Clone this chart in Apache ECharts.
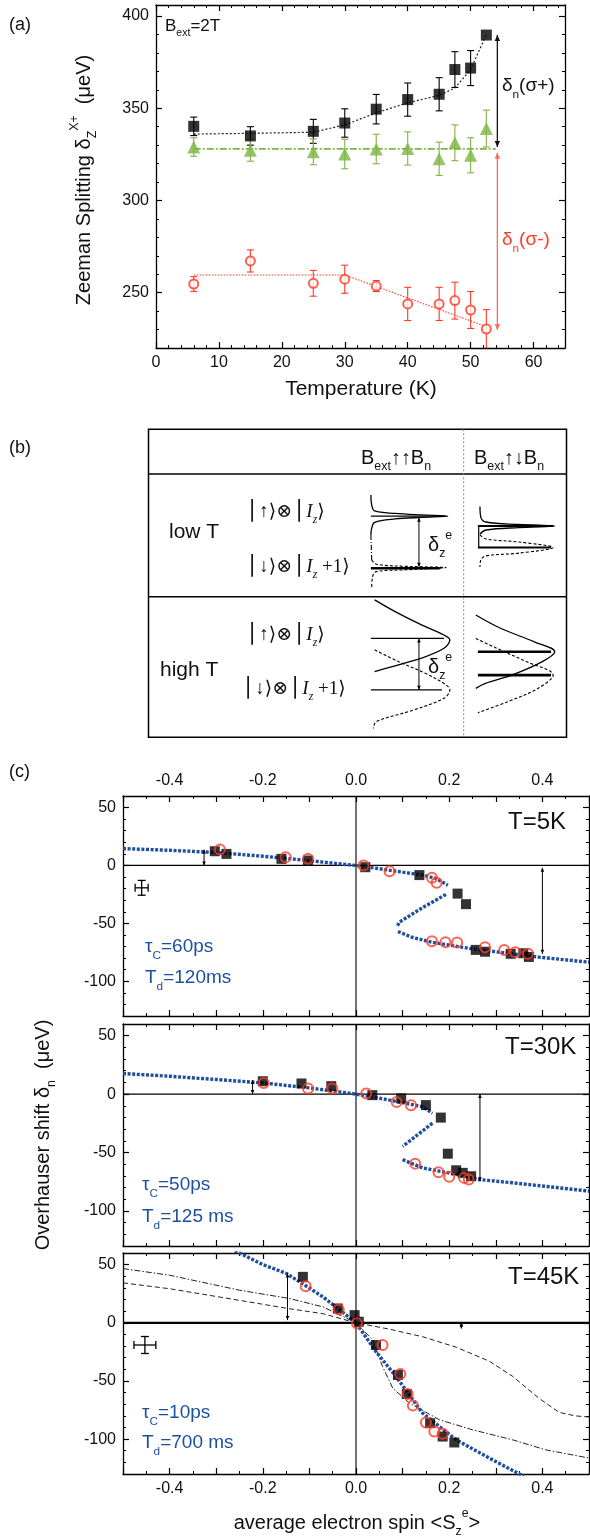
<!DOCTYPE html>
<html>
<head>
<meta charset="utf-8">
<script src="https://cdn.jsdelivr.net/npm/echarts@6/dist/echarts.min.js"></script>
<style>
  html, body { margin: 0; padding: 0; background: #fff; }
  #chart { width: 590px; height: 1539px; }
</style>
</head>
<body>
<div id="chart"></div>
<script>
// ---------- (a) Zeeman splitting versus temperature ----------
const temperature = [6, 15, 25, 30, 35, 40, 45, 47.5, 50, 52.5];
const splitSigmaPlus = [340.2, 335, 337.5, 342, 349.5, 354.7, 357.6, 371, 371.8, 389.7];
const errSigmaPlus = [5, 5, 6.5, 7.7, 8, 9, 9, 9.7, 9.5, 0];
const splitLinear = [329, 327.3, 326.4, 325.2, 327.9, 328.2, 322.6, 331.3, 324.5, 339];
const errLinear = [5, 6, 7, 8, 8, 9, 9, 9.7, 9.5, 10];
const splitSigmaMinus = [254.7, 267.2, 255.1, 257.3, 253.6, 243.9, 243.9, 245.7, 240.6, 230.3];
const errSigmaMinus = [4, 6, 7, 7.6, 3, 9, 9, 10, 10, 10.5];
const trendSigmaPlus = [[6, 336], [15, 336.4], [25, 337], [30, 341], [35, 347.5], [40, 353], [45, 357], [47.5, 361], [50, 371], [52.5, 390]];
const trendLinear = [[6, 328], [54, 328]];
const trendSigmaMinus = [[6, 259.6], [30, 259.6], [52.5, 231.6]];
const shiftPlusArrow = [[54.25, 389.7, 329]];
const shiftMinusArrow = [[54.25, 325.9, 229.8]];
const tempTicks = [0, 10, 20, 30, 40, 50, 60];
const tempMinorTicks = [2, 4, 6, 8, 12, 14, 16, 18, 22, 24, 26, 28, 32, 34, 36, 38, 42, 44, 46, 48, 52, 54, 56, 58, 62, 64];
const splitTicks = [250, 300, 350, 400];
const splitMinorTicks = [220, 230, 240, 260, 270, 280, 290, 310, 320, 330, 340, 360, 370, 380, 390];

// ---------- (b) level scheme (table units: 0..100 across, 0..100 down) ----------
const tableRules = [[[0, 14.5], [100, 14.5]], [[0, 54.4], [100, 54.4]]];
const tableDivider = [[75.4, 0], [75.4, 100]];
const lowParUpper = [[53.2, 21.3], [53.4, 24.6], [54.1, 26.5], [59.0, 27.3], [65.3, 27.8], [71.6, 28.2], [65.3, 28.6], [59.0, 29.1], [54.1, 30.2], [53.4, 32.1], [53.2, 34.3]];
const lowParTail = [[53.2, 34.3], [53.4, 42.4]];
const lowParLower = [[53.4, 42.4], [54.5, 43.8], [61.7, 44.5], [71.2, 44.9], [61.7, 45.6], [54.5, 46.2], [53.6, 47.9], [53.4, 51.4]];
const lowParLevels = [[[53.2, 28.2], [70.7, 28.2]], [[53.2, 45.1], [69.7, 45.1]]];
const lowAntiUpper = [[79.3, 25.1], [79.5, 28.5], [80.7, 30.1], [88.6, 30.9], [97.2, 31.4], [88.6, 31.9], [80.7, 32.7], [79.3, 34.0]];
const lowAntiLower = [[79.3, 34.3], [80.7, 35.6], [88.6, 36.6], [96.8, 38.4], [88.6, 40.2], [80.7, 41.1], [79.5, 42.4], [79.3, 44.7]];
const lowAntiLevels = [[[78.8, 31.4], [96.8, 31.4]], [[79.0, 31.4], [79.0, 38.4]], [[78.8, 38.4], [96.3, 38.4]]];
const highParUpper = [[54.1, 55.4], [59.0, 59.2], [65.3, 63.5], [70.7, 66.8], [72.1, 68.4], [70.7, 71.1], [65.3, 74.3], [58.1, 77.1], [54.1, 78.7]];
const highParLower = [[54.1, 71.6], [59.9, 75.5], [66.2, 79.2], [71.2, 83.0], [72.1, 84.6], [70.7, 87.3], [63.5, 91.1], [54.5, 94.9], [53.8, 97.1]];
const highParLevels = [[[53.2, 67.9], [70.7, 67.9]], [[53.2, 84.6], [70.2, 84.6]]];
const highAntiUpper = [[78.3, 60.3], [84.2, 64.6], [92.3, 69.0], [97.2, 72.2], [94.1, 75.5], [86.9, 79.8], [80.6, 82.5], [78.3, 84.1]];
const highAntiLower = [[78.3, 67.9], [83.3, 71.1], [90.5, 75.5], [96.8, 79.8], [93.2, 84.1], [86.0, 88.4], [78.8, 92.0]];
const highAntiLevels = [[[78.8, 72.2], [96.3, 72.2]], [[78.8, 79.8], [96.3, 79.8]]];
const splittingArrows = [[64.7, 28.7, 44.6], [64.7, 67.9, 84.6]];

// ---------- (c) Overhauser shift versus average electron spin ----------
const sigmaPlus5K = [[-0.303, 12.3], [-0.278, 10], [-0.16, 5.7], [-0.103, 4.3], [0.02, -1.5], [0.136, -8.3], [0.218, -24.3], [0.236, -33.4], [0.257, -72.9], [0.277, -74.5], [0.332, -76.3], [0.359, -75.8], [0.371, -79]];
const sigmaMinus5K = [[-0.292, 13.7], [-0.151, 7.1], [-0.103, 5.7], [0.016, 0], [0.072, -4.9], [0.163, -10.6], [0.173, -14.9], [0.163, -65.5], [0.192, -66.4], [0.217, -66.6], [0.277, -70.7], [0.318, -72.9], [0.342, -75], [0.369, -76.3]];
const model5K = [
  [[-0.5, 14.6], [-0.4, 13.1], [-0.3, 11.2], [-0.2, 8], [-0.1, 4.2], [-0.05, 2], [0, 0], [0.05, -2.8], [0.1, -5.8], [0.143, -8.3], [0.17, -11], [0.197, -17]],
  [[0.193, -25], [0.143, -36.3], [0.093, -49], [0.088, -53]],
  [[0.09, -57], [0.12, -62], [0.164, -66.4], [0.25, -72], [0.33, -76], [0.393, -79.2], [0.5, -83.5]]
];
const sigmaPlus30K = [[-0.2, 11], [-0.117, 9.1], [-0.053, 6.8], [0.035, -0.9], [0.097, -3.7], [0.15, -9.4], [0.182, -20.1], [0.197, -51], [0.215, -65.2], [0.229, -67.4], [0.247, -70.3]];
const sigmaMinus30K = [[-0.198, 9.6], [-0.103, 4.8], [-0.051, 4.8], [0.022, 0.6], [0.087, -6.8], [0.118, -9.6], [0.127, -59.5], [0.177, -66.9], [0.2, -70.8], [0.232, -71.7], [0.242, -73.1]];
const model30K = [
  [[-0.5, 17.6], [-0.4, 15.3], [-0.3, 12.5], [-0.2, 9.6], [-0.1, 5.3], [0, 0], [0.072, -5.1], [0.143, -10.8], [0.164, -16.4]],
  [[0.164, -24.9], [0.132, -34.9], [0.1, -44.8]],
  [[0.1, -56.1], [0.143, -63.2], [0.215, -68.6], [0.264, -73.1], [0.336, -75.9], [0.5, -83]]
];
const sigmaPlus45K = [[-0.114, 39.5], [-0.039, 12.3], [-0.003, 6.6], [0.006, 0.9], [0.043, -19.1], [0.09, -44.9], [0.109, -61.2], [0.159, -86.3], [0.186, -97.8], [0.211, -102.9]];
const sigmaMinus45K = [[-0.108, 31.5], [-0.037, 11.5], [0.002, -0.5], [0.057, -19.1], [0.095, -44], [0.111, -61.2], [0.122, -71.2], [0.15, -85.8], [0.168, -93.5], [0.186, -95.5]];
const model45K = [
  [[-0.26, 62], [-0.2, 50], [-0.149, 42.4], [-0.071, 22.3], [0, 0], [0.043, -24.9], [0.086, -46.3], [0.143, -77.7], [0.215, -100.6], [0.286, -116.3], [0.36, -132]]
];
const dashed45K = [[-0.5, 34.3], [-0.4, 29.3], [-0.25, 19.3], [-0.143, 12.1], [-0.071, 7.8], [0, 0], [0.072, -5.5], [0.143, -12], [0.215, -21], [0.286, -33], [0.336, -46], [0.393, -65], [0.436, -77], [0.47, -80], [0.5, -81]];
const dashDot45K = [[-0.5, 46.6], [-0.4, 40.9], [-0.25, 28], [-0.143, 20.9], [-0.071, 13.7], [0, 0], [0.036, -14.8], [0.057, -37.7], [0.079, -56.3], [0.115, -69.1], [0.179, -83.4], [0.25, -92], [0.336, -100.6], [0.407, -109.2], [0.5, -116.3]];
const arrows5K = [[-0.326, 13.7, 0], [0.4, -2, -76.3]];
const arrows30K = [[-0.222, 12, 0], [0.266, 0, -74.6]];
const arrows45K = [[-0.147, 42.4, 2.3], [0.226, 0, -5]];
const errCross5K = [[-0.46, -19.3, 0.014, 6.4]];
const errCross45K = [[-0.453, -19.1, 0.0235, 7.3]];
const spinTicks = [-0.5, -0.4, -0.3, -0.2, -0.1, 0, 0.1, 0.2, 0.3, 0.4, 0.5];
const spinLabelTicks = [-0.4, -0.2, 0, 0.2, 0.4];
const spinMinorTicks = [-0.45, -0.35, -0.25, -0.15, -0.05, 0.05, 0.15, 0.25, 0.35, 0.45];
const shiftTicks = [-100, -50, 0, 50];
const shiftMinorTicks = [-130, -120, -110, -90, -80, -70, -60, -40, -30, -20, -10, 10, 20, 30, 40, 60];

// ---------- styling ----------
const SANS = "'Liberation Sans', Arial, Helvetica, sans-serif";
const SERIF = "'Liberation Serif', 'DejaVu Serif', serif";
const BLACK = '#000';
const GREEN = '#7db544';
const RED = '#ff3a26';
const BLUE = '#1d4f9e';

const xAxes = [];
const yAxes = [];

// Builds a framed box: labelled/major axes on two sides plus minor-tick axes.
function frame(list, grid, sides, min, max, major, minor, labelSide, labelValues, fmt) {
  const idx = {};
  const base = { type: 'value', gridIndex: grid, min: min, max: max, splitLine: { show: false } };
  sides.forEach(function (pos) {
    list.push(Object.assign({}, base, {
      position: pos,
      axisLine: { show: true, onZero: false, lineStyle: { color: BLACK, width: 1.3 } },
      axisTick: { show: true, inside: true, length: 6, customValues: major, lineStyle: { color: BLACK, width: 1.2 } },
      axisLabel: {
        show: pos === labelSide, customValues: labelValues, formatter: fmt,
        color: '#111', fontSize: 16, fontFamily: SANS, margin: 7
      }
    }));
    idx[pos] = list.length - 1;
  });
  sides.forEach(function (pos) {
    list.push(Object.assign({}, base, {
      position: pos,
      axisLine: { show: false, onZero: false },
      axisTick: { show: true, inside: true, length: 3, customValues: minor, lineStyle: { color: BLACK, width: 1 } },
      axisLabel: { show: false }
    }));
  });
  return idx;
}

const intFmt = function (v) { return String(Math.round(v)); };
const spinFmt = function (v) { return (Math.abs(v) < 1e-9 ? 0 : v).toFixed(1); };

// grid 0 : panel (a)
const ax = frame(xAxes, 0, ['bottom', 'top'], 0, 65, tempTicks, tempMinorTicks, 'bottom', tempTicks, intFmt);
const ay = frame(yAxes, 0, ['left', 'right'], 220, 406, splitTicks, splitMinorTicks, 'left', splitTicks, intFmt);
// grid 1 : panel (b), hidden axes
xAxes.push({ type: 'value', gridIndex: 1, min: 0, max: 100, show: false });
const bx = xAxes.length - 1;
yAxes.push({ type: 'value', gridIndex: 1, min: 0, max: 100, inverse: true, show: false });
const by = yAxes.length - 1;
// grids 2..4 : panel (c)
const cPanels = [];
[2, 3, 4].forEach(function (g, i) {
  const xs = frame(xAxes, g, i === 0 ? ['top', 'bottom'] : ['bottom', 'top'], -0.5, 0.5, spinTicks, spinMinorTicks,
    i === 0 ? 'top' : (i === 2 ? 'bottom' : 'none'), spinLabelTicks, spinFmt);
  const ys = frame(yAxes, g, ['left', 'right'], -130, 60, shiftTicks, shiftMinorTicks, 'left', shiftTicks, intFmt);
  cPanels.push({ x: i === 0 ? xs.top : xs.bottom, y: ys.left });
});

// ---------- series helpers ----------
function line(xi, yi, data, color, width, type, z) {
  return {
    type: 'line', xAxisIndex: xi, yAxisIndex: yi, data: data, showSymbol: false, silent: true,
    smooth: false, clip: true, z: z || 2, animation: false,
    lineStyle: { color: color, width: width, type: type || 'solid' }
  };
}
function smoothLine(xi, yi, data, color, width, type, z) {
  const s = line(xi, yi, data, color, width, type, z);
  s.smooth = 0.35;
  return s;
}
function scatter(xi, yi, data, symbol, size, itemStyle, z) {
  return {
    type: 'scatter', xAxisIndex: xi, yAxisIndex: yi, data: data, symbol: symbol, symbolSize: size,
    itemStyle: itemStyle, z: z || 4, silent: true, animation: false
  };
}
function errorBars(xi, yi, xs, ys, errs, color, cap) {
  return {
    type: 'custom', xAxisIndex: xi, yAxisIndex: yi, z: 3, silent: true, animation: false, clip: true,
    data: xs.map(function (x, i) { return [x, ys[i] - errs[i], ys[i] + errs[i]]; }).filter(function (d, i) { return errs[i] > 0; }),
    renderItem: function (p, api) {
      const lo = api.coord([api.value(0), api.value(1)]);
      const hi = api.coord([api.value(0), api.value(2)]);
      const st = { stroke: color, lineWidth: 1.1 };
      return {
        type: 'group', children: [
          { type: 'line', shape: { x1: lo[0], y1: lo[1], x2: hi[0], y2: hi[1] }, style: st },
          { type: 'line', shape: { x1: lo[0] - cap, y1: lo[1], x2: lo[0] + cap, y2: lo[1] }, style: st },
          { type: 'line', shape: { x1: hi[0] - cap, y1: hi[1], x2: hi[0] + cap, y2: hi[1] }, style: st }
        ]
      };
    }
  };
}
function crossBars(xi, yi, data) {
  return {
    type: 'custom', xAxisIndex: xi, yAxisIndex: yi, z: 3, silent: true, animation: false, clip: true, data: data,
    renderItem: function (p, api) {
      const x = api.value(0), y = api.value(1), dx = api.value(2), dy = api.value(3);
      const l = api.coord([x - dx, y]), r = api.coord([x + dx, y]);
      const t = api.coord([x, y + dy]), b = api.coord([x, y - dy]);
      const st = { stroke: BLACK, lineWidth: 1.3 };
      const c = 4;
      return {
        type: 'group', children: [
          { type: 'line', shape: { x1: l[0], y1: l[1], x2: r[0], y2: r[1] }, style: st },
          { type: 'line', shape: { x1: t[0], y1: t[1], x2: b[0], y2: b[1] }, style: st },
          { type: 'line', shape: { x1: t[0] - c, y1: t[1], x2: t[0] + c, y2: t[1] }, style: st },
          { type: 'line', shape: { x1: b[0] - c, y1: b[1], x2: b[0] + c, y2: b[1] }, style: st },
          { type: 'line', shape: { x1: l[0], y1: l[1] - c, x2: l[0], y2: l[1] + c }, style: st },
          { type: 'line', shape: { x1: r[0], y1: r[1] - c, x2: r[0], y2: r[1] + c }, style: st }
        ]
      };
    }
  };
}
function doubleArrows(xi, yi, data, color, head, width) {
  return {
    type: 'custom', xAxisIndex: xi, yAxisIndex: yi, z: 5, silent: true, animation: false, data: data,
    renderItem: function (p, api) {
      const a = api.coord([api.value(0), api.value(1)]);
      const b = api.coord([api.value(0), api.value(2)]);
      const d = b[1] > a[1] ? 1 : -1;
      const w = head * 0.45;
      return {
        type: 'group', children: [
          { type: 'line', shape: { x1: a[0], y1: a[1], x2: b[0], y2: b[1] }, style: { stroke: color, lineWidth: width || 1.2 } },
          { type: 'polygon', shape: { points: [[a[0], a[1]], [a[0] - w, a[1] + d * head], [a[0] + w, a[1] + d * head]] }, style: { fill: color } },
          { type: 'polygon', shape: { points: [[b[0], b[1]], [b[0] - w, b[1] - d * head], [b[0] + w, b[1] - d * head]] }, style: { fill: color } }
        ]
      };
    }
  };
}
function zip(xs, ys) { return xs.map(function (x, i) { return [x, ys[i]]; }); }

const series = [];

// ---- panel (a)
series.push(errorBars(ax.bottom, ay.left, temperature, splitSigmaPlus, errSigmaPlus, BLACK, 3.5));
series.push(errorBars(ax.bottom, ay.left, temperature, splitLinear, errLinear, GREEN, 3.5));
series.push(errorBars(ax.bottom, ay.left, temperature, splitSigmaMinus, errSigmaMinus, RED, 3.5));
series.push(line(ax.bottom, ay.left, trendSigmaPlus, '#222', 1.2, [2, 2]));
series.push(line(ax.bottom, ay.left, trendLinear, GREEN, 1.6, [7, 2, 2, 2]));
series.push(line(ax.bottom, ay.left, trendSigmaMinus, RED, 1.1, [1.5, 1.5]));
series.push(scatter(ax.bottom, ay.left, zip(temperature, splitSigmaPlus), 'rect', 11, { color: BLACK }));
series.push(scatter(ax.bottom, ay.left, zip(temperature, splitLinear), 'triangle', 13, { color: GREEN }));
series.push(scatter(ax.bottom, ay.left, zip(temperature, splitSigmaMinus), 'circle', 9, { color: '#fff', borderColor: RED, borderWidth: 2 }));
series.push(doubleArrows(ax.bottom, ay.left, shiftPlusArrow, '#111', 6, 1.3));
series.push(doubleArrows(ax.bottom, ay.left, shiftMinusArrow, '#ff6a5e', 6, 1.3));

// ---- panel (b)
tableRules.forEach(function (r) { series.push(line(bx, by, r, BLACK, 1.5)); });
series.push(line(bx, by, tableDivider, '#888', 1, [2, 2]));
series.push(smoothLine(bx, by, lowParUpper, BLACK, 1.3));
series.push(line(bx, by, lowParTail, BLACK, 1.1, [5, 2, 1, 2]));
series.push(smoothLine(bx, by, lowParLower, BLACK, 1.1, [3, 2]));
series.push(line(bx, by, lowParLevels[0], BLACK, 1.2));
series.push(line(bx, by, lowParLevels[1], BLACK, 2.4));
series.push(smoothLine(bx, by, lowAntiUpper, BLACK, 1.3));
series.push(smoothLine(bx, by, lowAntiLower, BLACK, 1.1, [3, 2]));
lowAntiLevels.forEach(function (l, i) { series.push(line(bx, by, l, BLACK, i === 1 ? 1.2 : 2)); });
series.push(smoothLine(bx, by, highParUpper, BLACK, 1.3));
series.push(smoothLine(bx, by, highParLower, BLACK, 1.1, [3, 2]));
highParLevels.forEach(function (l) { series.push(line(bx, by, l, BLACK, 1.2)); });
series.push(smoothLine(bx, by, highAntiUpper, BLACK, 1.3));
series.push(smoothLine(bx, by, highAntiLower, BLACK, 1.1, [3, 2]));
highAntiLevels.forEach(function (l) { series.push(line(bx, by, l, BLACK, 2.6)); });
series.push(doubleArrows(bx, by, splittingArrows, BLACK, 4, 1));

// ---- panel (c)
const cData = [
  { sq: sigmaPlus5K, ci: sigmaMinus5K, model: model5K, arrows: arrows5K, cross: errCross5K, zeroW: 1.2 },
  { sq: sigmaPlus30K, ci: sigmaMinus30K, model: model30K, arrows: arrows30K, cross: null, zeroW: 1.2 },
  { sq: sigmaPlus45K, ci: sigmaMinus45K, model: model45K, arrows: arrows45K, cross: errCross45K, zeroW: 2.2 }
];
cData.forEach(function (d, i) {
  const xi = cPanels[i].x, yi = cPanels[i].y;
  series.push(line(xi, yi, [[-0.5, 0], [0.5, 0]], BLACK, d.zeroW, 'solid', 1));
  series.push(line(xi, yi, [[0, -130], [0, 60]], BLACK, 1.1, 'solid', 1));
  if (i === 2) {
    series.push(line(xi, yi, dashed45K, '#222', 1, [5, 3], 2));
    series.push(line(xi, yi, dashDot45K, '#222', 1, [6, 2, 1.5, 2], 2));
  }
  d.model.forEach(function (seg) { series.push(line(xi, yi, seg, BLUE, 3.4, [3, 1.6], 3)); });
  series.push(scatter(xi, yi, d.sq, 'rect', 10, { color: BLACK }, 4));
  series.push(scatter(xi, yi, d.ci, 'circle', 10, { color: 'rgba(255,255,255,0)', borderColor: RED, borderWidth: 2 }, 5));
  series.push(doubleArrows(xi, yi, d.arrows, BLACK, 4, 1));
  if (d.cross) series.push(crossBars(xi, yi, d.cross));
});

// ---------- text ----------
function txt(x, y, text, size, opts) {
  opts = opts || {};
  return {
    type: 'text', x: x, y: y, rotation: opts.rotation || 0, silent: true, z: 10,
    style: {
      text: text, fontSize: size, fontFamily: opts.font || SANS, fill: opts.color || '#111',
      align: opts.align || 'left', verticalAlign: opts.valign || 'middle', rich: opts.rich
    }
  };
}
function subRich(size, color, font) {
  return {
    m: { fontSize: size, fill: color, fontFamily: font || SANS, lineHeight: size * 1.5, verticalAlign: 'middle' },
    s: { fontSize: size * 0.62, fill: color, fontFamily: font || SANS, lineHeight: size * 1.5, verticalAlign: 'bottom' },
    u: { fontSize: size * 0.62, fill: color, fontFamily: font || SANS, lineHeight: size * 1.5, verticalAlign: 'top' },
    i: { fontSize: size, fill: color, fontFamily: SERIF, fontStyle: 'italic', lineHeight: size * 1.5, verticalAlign: 'middle' },
    is: { fontSize: size * 0.62, fill: color, fontFamily: SERIF, fontStyle: 'italic', lineHeight: size * 1.5, verticalAlign: 'bottom' }
  };
}

const graphics = [
  txt(9, 25, '(a)', 18),
  txt(165, 26, '{m|B}{s|ext}{m|=2T}', 17, { rich: subRich(17, '#111') }),
  txt(502, 86, '{m|δ}{s|n}{m|(σ+)}', 19, { rich: subRich(19, '#111') }),
  txt(502, 240, '{m|δ}{s|n}{m|(σ-)}', 19, { rich: subRich(19, RED) }),
  txt(361, 389, 'Temperature (K)', 21, { align: 'center' }),
  txt(84, 180, '{m|Zeeman Splitting δ}{s|Z}{u|X+}{m|  (μeV)}', 20, { rotation: Math.PI / 2, align: 'center', rich: subRich(20, '#111') }),

  txt(9, 448, '(b)', 18),
  txt(396, 458, '{m|B}{s|ext}{m|↑↑B}{s|n}', 20, { align: 'center', rich: subRich(20, '#111') }),
  txt(509, 458, '{m|B}{s|ext}{m|↑↓B}{s|n}', 20, { align: 'center', rich: subRich(20, '#111') }),
  txt(169, 532, 'low T', 21),
  txt(160, 670, 'high T', 21),
  txt(245, 512, '{m|⎪↑⟩⊗⎪}{i|I}{is|z}{m|⟩}', 19, { rich: subRich(19, '#111', SERIF) }),
  txt(245, 567, '{m|⎪↓⟩⊗⎪}{i|I}{is|z}{m| +1⟩}', 19, { rich: subRich(19, '#111', SERIF) }),
  txt(245, 635, '{m|⎪↑⟩⊗⎪}{i|I}{is|z}{m|⟩}', 19, { rich: subRich(19, '#111', SERIF) }),
  txt(241, 689, '{m|⎪↓⟩⊗⎪}{i|I}{is|z}{m| +1⟩}', 19, { rich: subRich(19, '#111', SERIF) }),
  txt(428, 545, '{m|δ}{s|z}{u|e}', 20, { rich: subRich(20, '#111') }),
  txt(428, 667, '{m|δ}{s|z}{u|e}', 20, { rich: subRich(20, '#111') }),

  txt(9, 772, '(c)', 18),
  txt(508, 822, 'T=5K', 24),
  txt(505, 1047, 'T=30K', 24),
  txt(508, 1277, 'T=45K', 24),
  txt(145, 947, '{m|τ}{s|C}{m|=60ps}', 19, { rich: subRich(19, BLUE) }),
  txt(145, 978, '{m|T}{s|d}{m|=120ms}', 19, { rich: subRich(19, BLUE) }),
  txt(142, 1185, '{m|τ}{s|C}{m|=50ps}', 19, { rich: subRich(19, BLUE) }),
  txt(142, 1217, '{m|T}{s|d}{m|=125 ms}', 19, { rich: subRich(19, BLUE) }),
  txt(142, 1413, '{m|τ}{s|C}{m|=10ps}', 19, { rich: subRich(19, BLUE) }),
  txt(142, 1443, '{m|T}{s|d}{m|=700 ms}', 19, { rich: subRich(19, BLUE) }),
  txt(357, 1523, '{m|average electron spin <S}{s|z}{u|e}{m|>}', 20, { align: 'center', rich: subRich(20, '#111') }),
  txt(43, 1135, '{m|Overhauser shift δ}{s|n}{m|  (μeV)}', 20, { rotation: Math.PI / 2, align: 'center', rich: subRich(20, '#111') })
];

const option = {
  animation: false,
  backgroundColor: '#fff',
  grid: [
    { left: 156, top: 5, width: 409, height: 343, containLabel: false },
    { left: 148.5, top: 429.3, width: 418, height: 308, show: true, borderColor: BLACK, borderWidth: 1.5, containLabel: false },
    { left: 123, top: 796, width: 466, height: 220, containLabel: false },
    { left: 123, top: 1024, width: 466, height: 222, containLabel: false },
    { left: 123, top: 1253, width: 466, height: 221, containLabel: false }
  ],
  xAxis: xAxes,
  yAxis: yAxes,
  series: series,
  graphic: graphics
};

const chart = echarts.init(document.getElementById('chart'), null, { renderer: 'canvas', width: 590, height: 1539 });
chart.setOption(option);
</script>
</body>
</html>
